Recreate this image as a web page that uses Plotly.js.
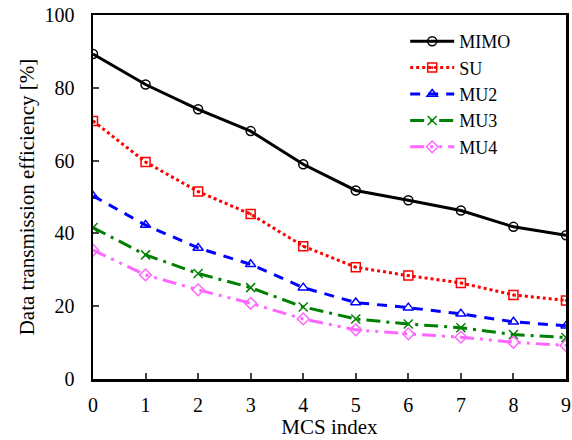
<!DOCTYPE html>
<html>
<head>
<meta charset="utf-8">
<script src="https://cdn.plot.ly/plotly-3.0.1.min.js"></script>
<style>html,body{margin:0;padding:0;background:#fff;}#chart{width:572px;height:440px;}</style>
</head>
<body>
<div id="chart"></div>
<script>
var mcsIndex = [0, 1, 2, 3, 4, 5, 6, 7, 8, 9];
var mimo = [89.3, 80.9, 74.1, 68.1, 59.0, 51.8, 49.1, 46.3, 41.8, 39.5];
var su   = [70.9, 59.6, 51.5, 45.3, 36.5, 30.7, 28.4, 26.4, 23.1, 21.6];
var mu2  = [50.3, 42.3, 36.0, 31.5, 25.1, 21.0, 19.6, 17.9, 15.7, 14.6];
var mu3  = [41.6, 34.1, 29.0, 25.1, 19.8, 16.5, 15.1, 14.1, 12.2, 11.4];
var mu4  = [35.4, 28.6, 24.5, 20.8, 16.5, 13.5, 12.4, 11.5, 10.1, 9.2];
var seriesNames = ["MIMO", "SU", "MU2", "MU3", "MU4"];

var F = "'Liberation Serif', 'Times New Roman', 'DejaVu Serif', serif";
function tr(y, name, color, dash, sym) {
  return {
    x: mcsIndex, y: y, name: name, type: "scatter", mode: "lines+markers",
    line: {color: color, width: 3, dash: dash},
    marker: {symbol: sym, size: 9, color: color, line: {color: color, width: 1.5}}
  };
}
var data = [
  tr(mimo, seriesNames[0], "#000000", "solid", "circle-open"),
  tr(su, seriesNames[1], "#FF0000", "dot", "square-open-dot"),
  tr(mu2, seriesNames[2], "#0000FF", "10px,8px", "triangle-up-open"),
  tr(mu3, seriesNames[3], "#008000", "14px,6px,3px,6px", "x-thin-open"),
  tr(mu4, seriesNames[4], "#FF66FF", "14px,6px,3px,6px,3px,6px", "diamond-open")
];
var layout = {
  width: 572, height: 440,
  margin: {l: 93, r: 6, t: 15, b: 61},
  paper_bgcolor: "#fff", plot_bgcolor: "#fff",
  font: {family: F, size: 20, color: "#000"},
  showlegend: true,
  legend: {x: 0.66, y: 0.978, xanchor: "left", yanchor: "top", bgcolor: "rgba(0,0,0,0)",
           font: {family: F, size: 18, color: "#000"}, tracegroupgap: 0, itemwidth: 44},
  xaxis: {
    range: [0, 9], tickvals: mcsIndex, ticks: "inside", ticklen: 6, tickwidth: 2,
    showline: true, linewidth: 2.5, linecolor: "#000", mirror: true, showgrid: false, zeroline: false,
    ticklabelstandoff: 6,
    tickfont: {family: F, size: 20}, title: {text: "MCS index", font: {family: F, size: 21}, standoff: 2}
  },
  yaxis: {
    range: [0, 100], dtick: 20, ticks: "inside", ticklen: 6, tickwidth: 2,
    showline: true, linewidth: 2.5, linecolor: "#000", mirror: true, showgrid: false, zeroline: false,
    ticklabelstandoff: 12,
    tickfont: {family: F, size: 20}, title: {text: "Data transmission efficiency [%]", font: {family: F, size: 21}, standoff: 4}
  }
};
Plotly.newPlot("chart", data, layout, {staticPlot: true, displayModeBar: false});
</script>
</body>
</html>
